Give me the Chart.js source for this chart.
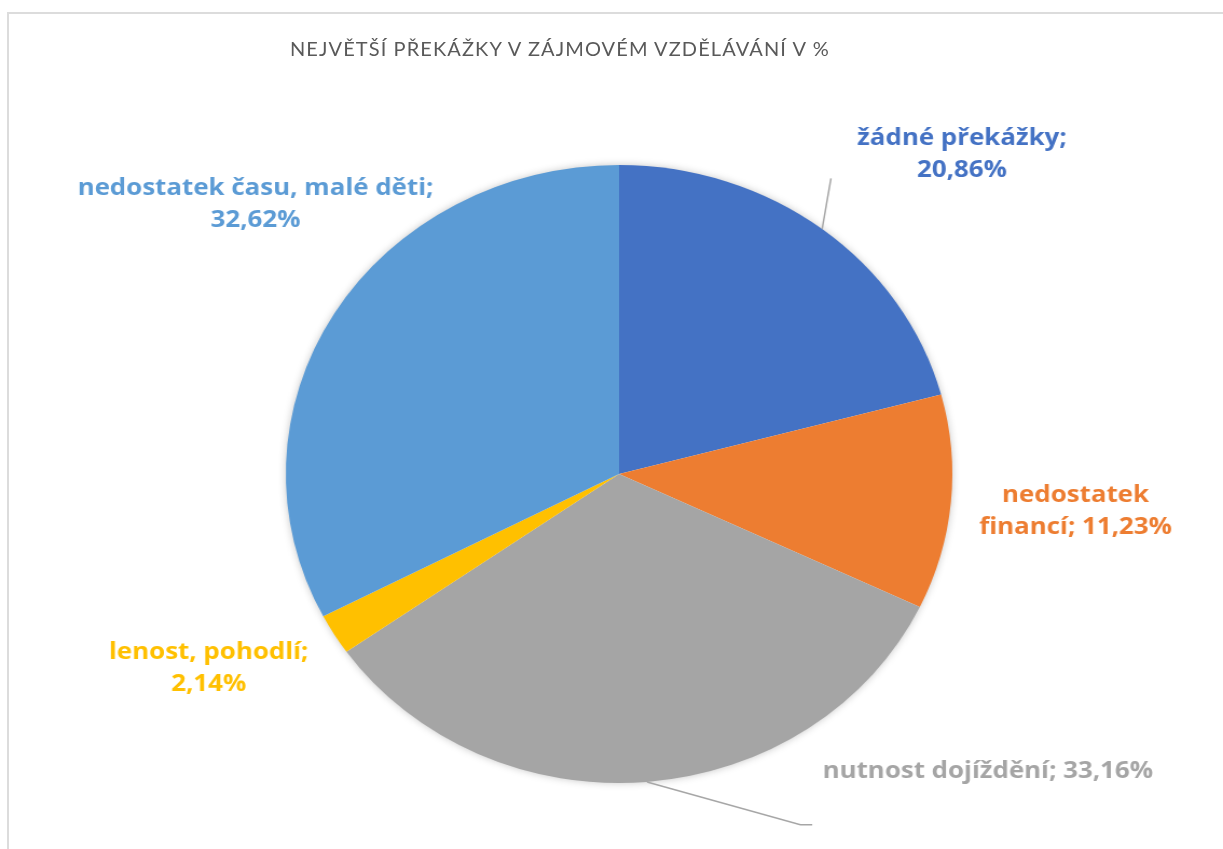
<!DOCTYPE html>
<html>
<head>
<meta charset="utf-8">
<script src="https://cdn.jsdelivr.net/npm/chart.js@4/dist/chart.umd.min.js"></script>
<style>
  html, body { margin: 0; padding: 0; background: #fff; }
  #frame { position: absolute; left: 7px; top: 12px; right: 0; bottom: 0;
           border-top: 2px solid #dcdcdc; border-left: 2px solid #dcdcdc; }
  #wrap { position: absolute; left: 0; top: 0; width: 1134px; height: 849px;
          transform: scaleX(1.0785); transform-origin: 0 0; }
  #title { position: absolute; left: 290px; top: 36px; font-family: Lato, sans-serif;
           font-size: 20px; letter-spacing: 1.1px; color: #595959; white-space: nowrap; }
</style>
</head>
<body>
<div id="frame"></div>
<div id="wrap"><canvas id="pieChart" width="1134" height="849"></canvas></div>
<div id="title">NEJVĚTŠÍ PŘEKÁŽKY V ZÁJMOVÉM VZDĚLÁVÁNÍ V %</div>

<script>
// data
const categories = ["žádné překážky", "nedostatek financí", "nutnost dojíždění", "lenost, pohodlí", "nedostatek času, malé děti"];
const shares = [20.86, 11.23, 33.16, 2.14, 32.62];
const sliceColors = ["#4472C4", "#ED7D31", "#A5A5A5", "#FFC000", "#5B9BD5"];

// how each data label is split into lines: "value" = break before value, "first" = after first word, "none" = one line
const labelBreaks = ["value", "first", "none", "value", "value"];
// label placement: angle in degrees from 12 o'clock clockwise, distance in radii
const labelPlaces = [
  { angle: 44.8, dist: 1.46 },
  { angle: 95, dist: 1.375 },
  { angle: 131, dist: 1.466 },
  { angle: 243, dist: 1.382 },
  { angle: 308.7, dist: 1.398 },
];
// leader lines (only where Excel drew them)
const leaders = [
  { index: 0, points: [{ angle: 33.6, dist: 1.149 }] },
  { index: 2, points: [{ angle: 154.4, dist: 1.259 }], tail: 11 },
];

function fmt(v) {
  return v.toFixed(2).replace(".", ",") + "%";
}

function labelLines(i) {
  const full = categories[i] + "; " + fmt(shares[i]);
  if (labelBreaks[i] === "value") return [categories[i] + ";", fmt(shares[i])];
  if (labelBreaks[i] === "first") {
    const k = full.indexOf(" ");
    return [full.slice(0, k), full.slice(k + 1)];
  }
  return [full];
}

function polar(arc, angleDeg, dist) {
  const a = (angleDeg - 90) * Math.PI / 180;
  return { x: arc.x + Math.cos(a) * arc.outerRadius * dist, y: arc.y + Math.sin(a) * arc.outerRadius * dist };
}

// soft shadow under the whole pie
const pieShadow = {
  id: "pieShadow",
  beforeDatasetsDraw(chart) {
    const arc = chart.getDatasetMeta(0).data[0];
    if (!arc) return;
    const ctx = chart.ctx;
    ctx.save();
    ctx.shadowColor = "rgba(0,0,0,0.28)";
    ctx.shadowBlur = 9;
    ctx.fillStyle = "#ffffff";
    ctx.beginPath();
    ctx.arc(arc.x, arc.y, arc.outerRadius - 1, 0, Math.PI * 2);
    ctx.fill();
    ctx.restore();
  },
};

// data labels and leader lines
const pieLabels = {
  id: "pieLabels",
  afterDatasetsDraw(chart) {
    const ctx = chart.ctx;
    const arcs = chart.getDatasetMeta(0).data;
    ctx.save();

    ctx.strokeStyle = "#a6a6a6";
    ctx.lineWidth = 1.5;
    leaders.forEach((ld) => {
      const arc = arcs[ld.index];
      const mid = (arc.startAngle + arc.endAngle) / 2;
      ctx.beginPath();
      ctx.moveTo(arc.x + Math.cos(mid) * arc.outerRadius, arc.y + Math.sin(mid) * arc.outerRadius);
      let last = null;
      ld.points.forEach((p) => {
        last = polar(arc, p.angle, p.dist);
        ctx.lineTo(last.x, last.y);
      });
      if (ld.tail) ctx.lineTo(last.x + ld.tail, last.y);
      ctx.stroke();
    });

    ctx.font = "bold 24px 'Open Sans', sans-serif";
    ctx.textAlign = "center";
    ctx.textBaseline = "middle";
    arcs.forEach((arc, i) => {
      const pos = polar(arc, labelPlaces[i].angle, labelPlaces[i].dist);
      const lines = labelLines(i);
      const lh = 32;
      ctx.fillStyle = sliceColors[i];
      lines.forEach((t, j) => {
        ctx.fillText(t, pos.x, pos.y + (j - (lines.length - 1) / 2) * lh);
      });
    });
    ctx.restore();
  },
};

const pieChart = new Chart(document.getElementById("pieChart"), {
  type: "pie",
  data: {
    labels: categories,
    datasets: [
      {
        data: shares,
        backgroundColor: sliceColors,
        borderWidth: 0,
      },
    ],
  },
  options: {
    responsive: false,
    devicePixelRatio: 1,
    animation: false,
    events: [],
    layout: {
      padding: { left: 200, right: 186, top: 165, bottom: 66 },
    },
    plugins: {
      legend: { display: false },
      tooltip: { enabled: false },
    },
  },
  plugins: [pieShadow, pieLabels],
});
</script>
</body>
</html>
